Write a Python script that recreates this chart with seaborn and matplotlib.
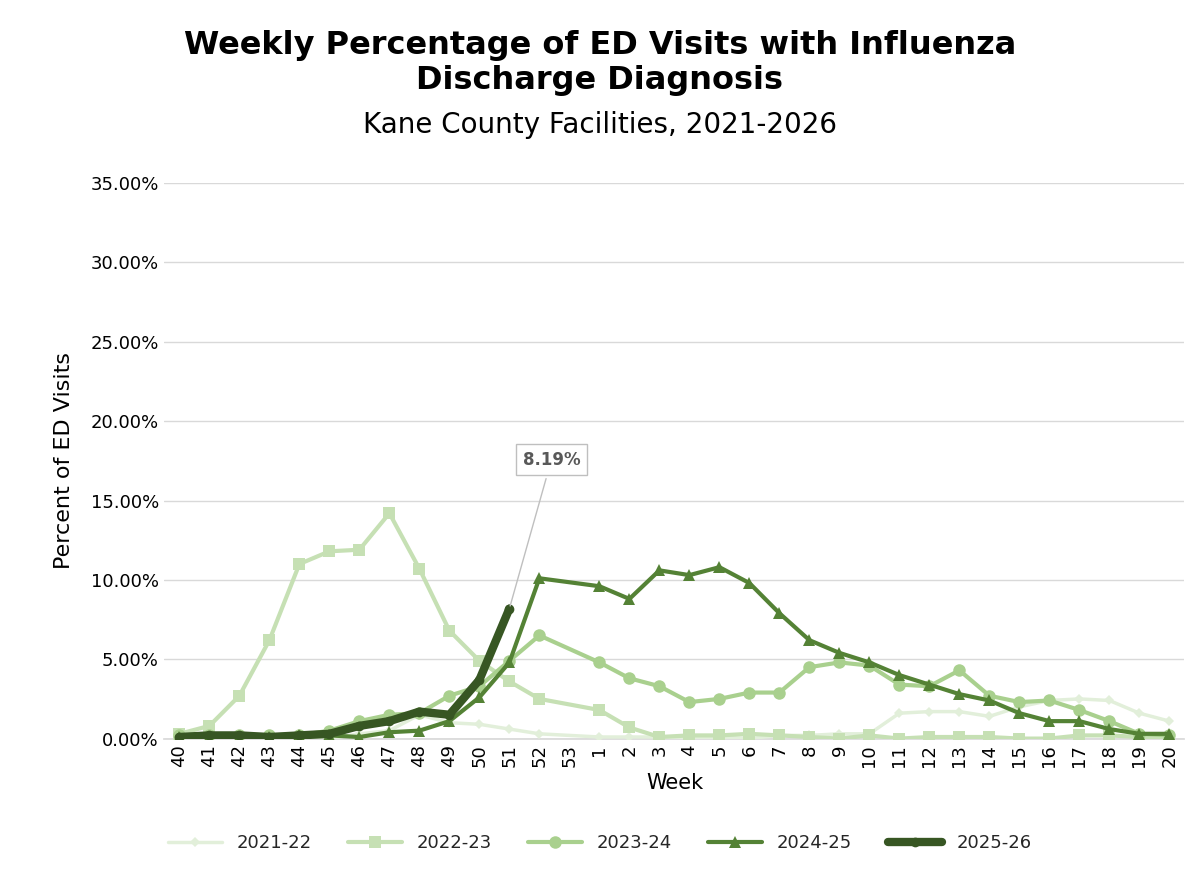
import numpy as np
import pandas as pd
import matplotlib
matplotlib.use("Agg")
import matplotlib.pyplot as plt
import seaborn as sns

weeks = [str(w) for w in list(range(40, 54)) + list(range(1, 21))]
N = np.nan
s2122 = [0.3,0.3,0.2,0.1,0.0,0.0,0.3,0.5,1.5,1.0,0.9,0.6,0.3,N,0.1,0.1,0.1,0.0,0.1,0.0,0.2,0.2,0.3,0.3,1.6,1.7,1.7,1.4,2.0,2.4,2.5,2.4,1.6,1.1]
s2223 = [0.3,0.8,2.7,6.2,11.0,11.8,11.9,14.2,10.7,6.8,4.9,3.6,2.5,N,1.8,0.7,0.1,0.2,0.2,0.3,0.2,0.1,0.0,0.2,0.0,0.1,0.1,0.1,0.0,0.0,0.2,0.2,0.1,0.0]
s2324 = [0.2,0.2,0.2,0.2,0.2,0.5,1.1,1.5,1.6,2.7,3.3,4.9,6.5,N,4.8,3.8,3.3,2.3,2.5,2.9,2.9,4.5,4.8,4.6,3.4,3.3,4.3,2.7,2.3,2.4,1.8,1.1,0.3,0.2]
s2425 = [0.1,0.1,0.1,0.1,0.2,0.2,0.1,0.4,0.5,1.1,2.6,4.8,10.1,N,9.6,8.8,10.6,10.3,10.8,9.8,7.9,6.2,5.4,4.8,4.0,3.4,2.8,2.4,1.6,1.1,1.1,0.6,0.3,0.3]
s2526 = [0.1,0.2,0.2,0.1,0.2,0.3,0.8,1.1,1.7,1.5,3.7,8.19]
seasons = ["2021-22","2022-23","2023-24","2024-25","2025-26"]
colors = ["#e2efda","#c6e0b4","#a9d08e","#548235","#375623"]
markers = ["D","s","o","^","o"]
msizes = [5,9,9,9,7]
lws = [2.5,3,3,3,6]

rows = []
for name, vals in zip(seasons, [s2122, s2223, s2324, s2425, s2526]):
    for i, v in enumerate(vals):
        if not np.isnan(v):
            rows.append((name, i, v))
df = pd.DataFrame(rows, columns=["season", "x", "val"])

sns.set_theme(style="white")
plt.rcParams['font.family'] = ['DejaVu Sans']
fig = plt.figure(figsize=(12, 8.72), dpi=100)
ax = fig.add_axes([0.137, 0.153, 0.85, 0.637])
for name, c, m, ms, lw in zip(seasons, colors, markers, msizes, lws):
    d = df[df.season == name]
    sns.lineplot(data=d, x="x", y="val", ax=ax, color=c, marker=m, markersize=ms,
                 linewidth=lw, markeredgewidth=0, label=name, zorder=3 if name != "2025-26" else 5)

ax.set_xlim(-0.5, len(weeks) - 0.5)
ax.set_ylim(0, 35)
ax.set_yticks(np.arange(0, 36, 5))
ax.set_yticklabels([f"{v:.2f}%" for v in np.arange(0, 36, 5)], fontsize=13, color="black")
ax.set_xticks(range(len(weeks)))
ax.set_xticklabels(weeks, rotation=90, fontsize=13, color="black")
ax.yaxis.grid(True, color="#d9d9d9", linewidth=1)
for s in ["top", "right", "left"]:
    ax.spines[s].set_visible(False)
ax.spines["bottom"].set_color("#d9d9d9")
ax.tick_params(axis="both", length=0, pad=4)
ax.set_xlabel("Week", fontsize=15, color="black")
ax.set_ylabel("Percent of ED Visits", fontsize=16, labelpad=12, color="black")

ax.annotate(f"{s2526[-1]:.2f}%", xy=(11, s2526[-1]), xytext=(12.4, 17.0),
            fontsize=12, fontweight="bold", color="#595959", ha="center", va="bottom",
            bbox=dict(boxstyle="square,pad=0.4", fc="white", ec="#bfbfbf"),
            arrowprops=dict(arrowstyle="-", color="#bfbfbf", lw=1), zorder=6)

fig.text(0.5, 0.928, "Weekly Percentage of ED Visits with Influenza\nDischarge Diagnosis",
         ha="center", va="center", fontsize=23, fontweight="bold", linespacing=1.15, color="black")
fig.text(0.5, 0.857, "Kane County Facilities, 2021-2026", ha="center", va="center", fontsize=20, color="black")

ax.legend_.remove()
h, l = ax.get_legend_handles_labels()
fig.legend(h, l, loc="center", bbox_to_anchor=(0.5, 0.033), ncol=5, frameon=False,
           fontsize=13, handlelength=3, columnspacing=2)
fig.savefig("out.png", dpi=100)
